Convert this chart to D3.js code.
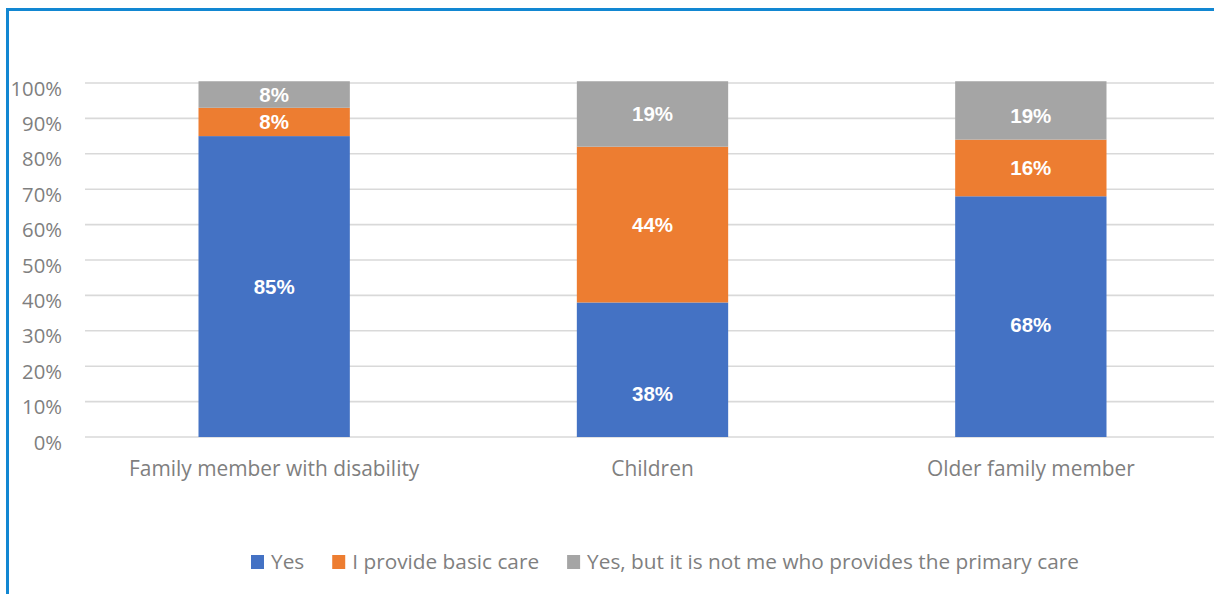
<!DOCTYPE html>
<html>
<head>
<meta charset="utf-8">
<script src="https://cdn.jsdelivr.net/npm/d3@7/dist/d3.min.js"></script>
<style>
  html, body { margin: 0; padding: 0; background: #fff; }
  svg { display: block; }
</style>
</head>
<body>
<svg id="chart" width="1214" height="594"></svg>
<script>
// Caregiving responsibilities by type of dependent (share of respondents)
const categories = ["Family member with disability", "Children", "Older family member"];
const seriesNames = ["Yes", "I provide basic care", "Yes, but it is not me who provides the primary care"];
const yesValues = [0.85, 0.38, 0.68];
const basicCareValues = [0.08, 0.44, 0.16];
const notPrimaryValues = [0.08, 0.19, 0.19];
const yTicks = [0, 0.1, 0.2, 0.3, 0.4, 0.5, 0.6, 0.7, 0.8, 0.9, 1.0];
const colors = ["#4472C4", "#ED7D31", "#A5A5A5"];

const svg = d3.select("#chart");
const W = 1214, H = 594;
const plot = { left: 85, right: 1220, top: 83, bottom: 437 };
const textFont = "'Open Sans', 'Noto Sans', sans-serif";

// Outer frame (top and left edges visible)
svg.append("path")
  .attr("d", `M7.5,${H + 5} L7.5,9.5 L${W + 5},9.5`)
  .attr("fill", "none")
  .attr("stroke", "#1287D2")
  .attr("stroke-width", 3);

const x = d3.scaleBand()
  .domain(categories)
  .range([plot.left, plot.right])
  .paddingInner(0.6)
  .paddingOuter(0.3);

const y = d3.scaleLinear()
  .domain([0, 1])
  .range([plot.bottom, plot.top]);

// Gridlines
svg.append("g")
  .selectAll("line")
  .data(yTicks)
  .join("line")
  .attr("x1", plot.left)
  .attr("x2", plot.right)
  .attr("y1", d => y(d))
  .attr("y2", d => y(d))
  .attr("stroke", "#D9D9D9")
  .attr("stroke-width", 1.6);

// Y axis labels
const yAxis = d3.axisLeft(y).tickValues(yTicks).tickFormat(d3.format(".0%")).tickSize(0).tickPadding(0);
const yg = svg.append("g").attr("transform", `translate(62,0)`).call(yAxis);
yg.select(".domain").remove();
yg.selectAll("text")
  .attr("font-family", textFont)
  .attr("font-size", 20.3)
  .attr("fill", "#7F7F7F")
  .attr("dy", null)
  .attr("dominant-baseline", "alphabetic")
  .attr("transform", "translate(0,12)");

// Category labels
const xAxis = d3.axisBottom(x).tickSize(0).tickPadding(0);
const xg = svg.append("g").attr("transform", `translate(0,476)`).call(xAxis);
xg.select(".domain").remove();
xg.selectAll("text")
  .attr("font-family", textFont)
  .attr("font-size", 20.9)
  .attr("fill", "#7F7F7F")
  .attr("dy", null)
  .attr("y", 0);

// Stacked data
const rows = categories.map((c, i) => ({
  category: c,
  [seriesNames[0]]: yesValues[i],
  [seriesNames[1]]: basicCareValues[i],
  [seriesNames[2]]: notPrimaryValues[i]
}));
const stacked = d3.stack().keys(seriesNames)(rows);

// Plot-area clip (the plot area extends just above the 100% gridline)
const clipTop = y(1.005);
svg.append("clipPath").attr("id", "plotClip")
  .append("rect")
  .attr("x", plot.left).attr("y", clipTop)
  .attr("width", plot.right - plot.left)
  .attr("height", plot.bottom - clipTop);

const barsG = svg.append("g").attr("clip-path", "url(#plotClip)");
barsG.selectAll("g")
  .data(stacked)
  .join("g")
  .attr("fill", (d, i) => colors[i])
  .selectAll("rect")
  .data(d => d)
  .join("rect")
  .attr("x", d => x(d.data.category))
  .attr("width", x.bandwidth())
  .attr("y", d => y(d[1]))
  .attr("height", d => y(d[0]) - y(d[1]));

// Data labels, centred in the visible part of each segment
const labelNudge = { "0-1": 24, "0-2": 8, "2-2": 5 };
const labelsG = svg.append("g");
stacked.forEach((series, si) => {
  series.forEach((d, ci) => {
    const top = Math.max(y(d[1]), clipTop);
    const bottom = y(d[0]);
    const cy = (top + bottom) / 2 + (labelNudge[`${si}-${ci}`] || 0);
    labelsG.append("text")
      .attr("x", x(d.data.category) + x.bandwidth() / 2)
      .attr("y", cy)
      .attr("text-anchor", "middle")
      .attr("dominant-baseline", "central")
      .attr("font-family", "'Liberation Sans', Arial, sans-serif")
      .attr("font-weight", "bold")
      .attr("font-size", 20.5)
      .attr("fill", "#FFFFFF")
      .text(d3.format(".0%")(d[1] - d[0]));
  });
});

// Legend
const legend = svg.append("g").attr("transform", "translate(251,0)");
let lx = 0;
seriesNames.forEach((name, i) => {
  legend.append("rect")
    .attr("x", lx).attr("y", 555)
    .attr("width", 13).attr("height", 14)
    .attr("fill", colors[i]);
  const t = legend.append("text")
    .attr("x", lx + 20).attr("y", 569)
    .attr("font-family", textFont)
    .attr("font-size", 20.8)
    .attr("fill", "#7F7F7F")
    .text(name);
  lx += 20 + t.node().getComputedTextLength() + 28;
});
</script>
</body>
</html>
